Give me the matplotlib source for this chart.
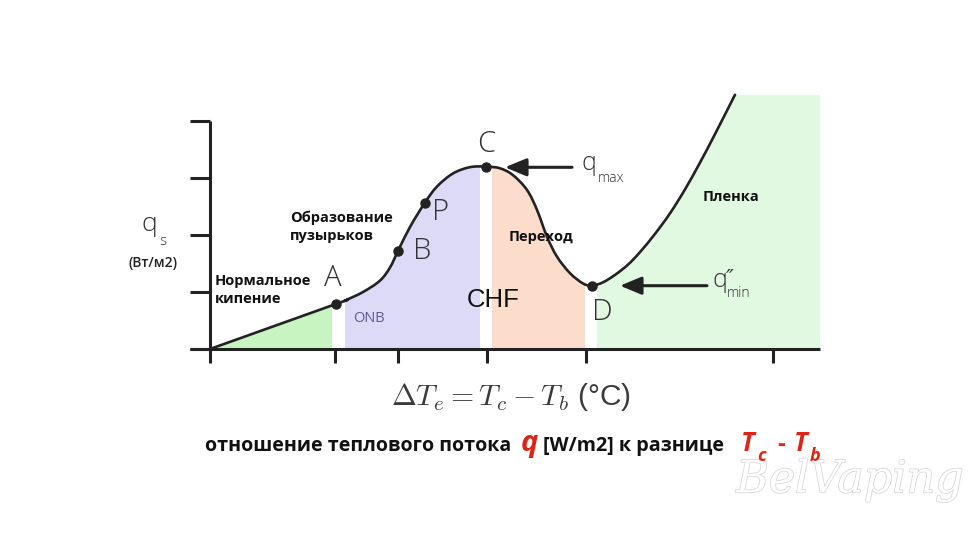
import matplotlib
matplotlib.use("Agg")
import matplotlib.pyplot as plt
import matplotlib.patheffects as pe
from matplotlib.patches import PathPatch
from matplotlib.path import Path
import numpy as np

# ---------------- data (arbitrary units: x = ΔTe, y = q_s) ----------------
curve_x = [0.0, 12.6, 13.5, 15.3, 17.0, 18.0, 18.8, 20.0, 21.5, 22.7, 24.3, 26.0,
           27.6, 29.0, 30.3, 31.7, 32.7, 33.7, 34.7, 36.0, 37.3, 38.2, 39.3, 40.5,
           41.8, 43.0, 44.5, 46.0, 47.5, 49.0, 50.5, 52.5]
curve_y = [0.0, 0.79, 0.85, 1.00, 1.20, 1.43, 1.72, 2.14, 2.57, 2.85, 3.08, 3.19,
           3.20, 3.17, 3.05, 2.79, 2.44, 1.97, 1.62, 1.33, 1.15, 1.11, 1.17, 1.30,
           1.48, 1.70, 2.02, 2.38, 2.80, 3.27, 3.77, 4.46]

point_labels = ["A", "B", "P", "C", "D"]
point_x = [12.6, 18.8, 21.5, 27.6, 38.2]
point_y = [0.79, 1.72, 2.57, 3.20, 1.11]

region_start = [0.15, 13.5, 28.2, 38.7]
region_end = [12.2, 27.0, 37.5, 61.0]
region_colors = ["#c8f4c2", "#dddaf8", "#fcdccb", "#e1f8e1"]
region_top = 4.46

x_ticks = [0, 12.5, 18.8, 27.7, 37.6, 56.3]
y_ticks = [0, 1, 2, 3, 4]

# ---------------- figure ----------------
W, H = 980, 551
fig = plt.figure(figsize=(W / 100, H / 100), dpi=100)
fig.patch.set_facecolor("white")


def fx(px):
    return px / W


def fy(py):
    return 1 - py / H


def dx(px):
    return (px - 210) / 10.0


def dy(py):
    return (349 - py) / 57.0


ax = fig.add_axes([fx(190), fy(349), 630 / W, (349 - 85) / H])
ax.set_xlim(-2, 61)
ax.set_ylim(0, (349 - 85) / 57.0)
ax.patch.set_alpha(0)

AXC = "#222222"
for s in ("top", "right"):
    ax.spines[s].set_visible(False)
ax.spines["left"].set_position(("data", 0))
ax.spines["left"].set_bounds(0, 4)
ax.spines["bottom"].set_bounds(-2, 61)
for s in ("left", "bottom"):
    ax.spines[s].set_linewidth(2.2)
    ax.spines[s].set_color(AXC)
    ax.spines[s].set_capstyle("butt")
ax.set_xticks(x_ticks)
ax.set_yticks(y_ticks)
ax.tick_params(axis="y", direction="out", length=14.4, width=2.2, color=AXC,
               labelleft=False)
ax.tick_params(axis="x", direction="out", length=10, width=2.2, color=AXC,
               labelbottom=False)


# smooth path through the read points (first segment straight)
def smooth_path(xs, ys):
    P = np.column_stack([xs, ys])
    verts = [P[0], P[1]]
    codes = [Path.MOVETO, Path.LINETO]
    n = len(P)
    for i in range(1, n - 1):
        p0, p1, p2 = P[i - 1], P[i], P[i + 1]
        p3 = P[i + 2] if i + 2 < n else P[i + 1]
        verts += [p1 + (p2 - p0) / 6.0, p2 - (p3 - p1) / 6.0, p2]
        codes += [Path.CURVE4] * 3
    return verts, codes


cverts, ccodes = smooth_path(curve_x, curve_y)
curve_path = Path(cverts, ccodes)

# region fills clipped below the curve
clip_verts = cverts + [(61.0, region_top), (61.0, 0.0), (0.0, 0.0), (0.0, 0.0)]
clip_codes = ccodes + [Path.LINETO, Path.LINETO, Path.LINETO, Path.CLOSEPOLY]
clip_patch = PathPatch(Path(clip_verts, clip_codes), transform=ax.transData)
for a, b, c in zip(region_start, region_end, region_colors):
    coll = ax.fill_between([a, b], 0, region_top, color=c, lw=0, zorder=1)
    coll.set_clip_path(clip_patch)

# curve and points
ax.add_patch(PathPatch(curve_path, fill=False, edgecolor=AXC, lw=1.9,
                       capstyle="round", joinstyle="round", zorder=3,
                       clip_on=False))
ax.plot(point_x, point_y, "o", color=AXC, ms=6.5, zorder=4, clip_on=False)

# point letters
LETC = "#333333"
letter_pos = {"A": (333, 278), "B": (422, 251), "P": (441, 212),
              "C": (486, 144), "D": (602, 312)}
for lab in point_labels:
    px, py = letter_pos[lab]
    ax.text(dx(px), dy(py), lab, fontsize=21, color=LETC, family="Open Sans",
            fontweight="light", ha="center", va="center", zorder=5)

BOLD = dict(family="Open Sans", fontweight="bold", color="#111111", fontsize=10.5)
ax.text(dx(215), dy(290), "Нормальное\nкипение", ha="left", va="center",
        linespacing=1.4, **BOLD)
ax.text(dx(290), dy(227), "Образование\nпузырьков", ha="left", va="center",
        linespacing=1.4, **BOLD)
ax.text(dx(541), dy(237), "Переход", ha="center", va="center", **BOLD)
ax.text(dx(731), dy(197), "Пленка", ha="center", va="center", **BOLD)
ax.text(dx(353), dy(318.5), "ONB", ha="left", va="center", fontsize=10.5,
        family="Open Sans", color="#5e5a8e")
ax.text(dx(493), dy(300), "CHF", ha="center", va="center", fontsize=18.5,
        family="Liberation Sans", color="#111111")

# arrows for q_max and q_min
arrow_kw = dict(arrowstyle="-|>,head_length=0.65,head_width=0.27",
                color=AXC, lw=2.2, mutation_scale=20, shrinkA=0, shrinkB=0)
ax.annotate("", xy=(dx(505), dy(167.3)), xytext=(dx(572), dy(167.3)),
            arrowprops=arrow_kw, zorder=5)
ax.annotate("", xy=(dx(620), dy(285.7)), xytext=(dx(707), dy(285.7)),
            arrowprops=arrow_kw, zorder=5)

QF = dict(family=["Open Sans", "DejaVu Sans"], color=LETC, fontweight="light")
ax.text(dx(581), dy(170), "q", fontsize=18, ha="left", va="baseline", **QF)
ax.text(dx(598), dy(181.5), "max", fontsize=10, ha="left", va="baseline", **QF)
ax.text(dx(712), dy(286.7), "q", fontsize=18, ha="left", va="baseline", **QF)
ax.text(dx(727), dy(297), "min", fontsize=10, ha="left", va="baseline", **QF)
ax.text(dx(726), dy(285), "\u2033", fontsize=15, ha="left", va="baseline",
        family=["DejaVu Sans"], color=LETC, style="italic")

# y-axis label
fig.text(fx(141), fy(231), "q", fontsize=19, ha="left", va="baseline", **QF)
fig.text(fx(159), fy(245), "s", fontsize=11, ha="left", va="baseline", **QF)
fig.text(fx(153), fy(263), "(Вт/м2)", fontsize=10, ha="center", va="center",
         family="Open Sans", fontweight="semibold", color="#222222")

# x-axis label (math)
fig.text(fx(511), fy(405), r"$\Delta T_e = T_c - T_b$ (°C)", fontsize=21.5,
         ha="center", va="baseline", color="#3a3a3a", math_fontfamily="cm",
         family="Liberation Sans")

# subtitle with coloured pieces
RED = "#dd2415"
SUB = dict(family="Open Sans", fontweight="bold", va="baseline", ha="left")
fig.text(fx(205), fy(451), "отношение теплового потока", fontsize=14.1,
         color="#111111", **SUB)
fig.text(fx(521), fy(451), "q", fontsize=21, color=RED, style="italic", **SUB)
fig.text(fx(543), fy(451), "[W/m2] к разнице", fontsize=14.2, color="#111111",
         **SUB)
fig.text(fx(741), fy(451), "T", fontsize=18.5, color=RED, style="italic", **SUB)
fig.text(fx(757), fy(461), "c", fontsize=13, color=RED, style="italic", **SUB)
fig.text(fx(777), fy(451), "-", fontsize=17, color=RED, **SUB)
fig.text(fx(794), fy(451), "T", fontsize=18.5, color=RED, style="italic", **SUB)
fig.text(fx(810), fy(461), "b", fontsize=13, color=RED, style="italic", **SUB)

# watermark
wm = fig.text(fx(850), fy(480), "BelVaping", fontsize=32, color="white",
              family="DejaVu Serif", style="italic", ha="center", va="center",
              zorder=0)
wm.set_path_effects([pe.withStroke(linewidth=1.1, foreground="#d6d6d6")])

fig.savefig("out.png", dpi=100, facecolor="white")
